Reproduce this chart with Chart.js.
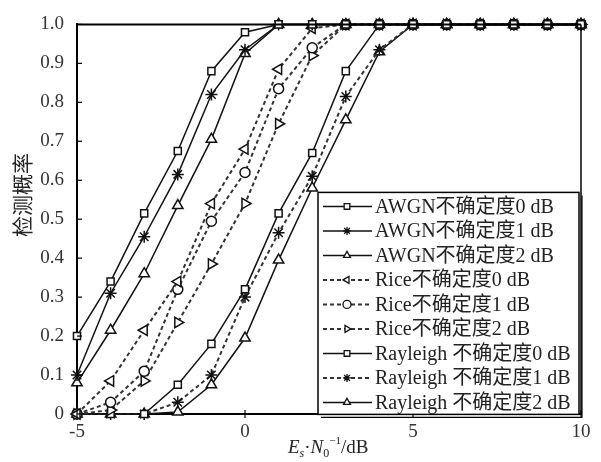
<!DOCTYPE html>
<html>
<head>
<meta charset="utf-8">
<script src="https://cdn.jsdelivr.net/npm/chart.js@4.4.1/dist/chart.umd.min.js"></script>
<style>
  html, body { margin: 0; padding: 0; background: #fff; }
  #wrap { width: 601px; height: 462px; position: relative; }
</style>
</head>
<body>
<div id="wrap"><canvas id="c" width="601" height="462"></canvas></div>
<script>
// Es/N0 in dB
const snr = [-5, -4, -3, -2, -1, 0, 1, 2, 3, 4, 5, 6, 7, 8, 9, 10];

// detection probability per channel / noise uncertainty
const awgn0 = [0.20, 0.34, 0.515, 0.675, 0.88, 0.98, 1, 1, 1, 1, 1, 1, 1, 1, 1, 1];
const awgn1 = [0.10, 0.31, 0.455, 0.615, 0.82, 0.935, 1, 1, 1, 1, 1, 1, 1, 1, 1, 1];
const awgn2 = [0.08, 0.215, 0.36, 0.535, 0.705, 0.925, 1, 1, 1, 1, 1, 1, 1, 1, 1, 1];
const rice0 = [0, 0.085, 0.215, 0.34, 0.54, 0.68, 0.885, 0.99, 1, 1, 1, 1, 1, 1, 1, 1];
const rice1 = [0, 0.03, 0.11, 0.32, 0.495, 0.62, 0.835, 0.94, 1, 1, 1, 1, 1, 1, 1, 1];
const rice2 = [0, 0.01, 0.085, 0.235, 0.385, 0.54, 0.745, 0.92, 1, 1, 1, 1, 1, 1, 1, 1];
const ray0  = [0, 0, 0, 0.075, 0.18, 0.32, 0.515, 0.67, 0.88, 1, 1, 1, 1, 1, 1, 1];
const ray1  = [0, 0, 0, 0.03, 0.10, 0.30, 0.465, 0.61, 0.815, 0.935, 1, 1, 1, 1, 1, 1];
const ray2  = [0, 0, 0, 0.005, 0.075, 0.195, 0.395, 0.58, 0.755, 0.93, 1, 1, 1, 1, 1, 1];

const seriesNames = [
  'AWGN不确定度0 dB', 'AWGN不确定度1 dB', 'AWGN不确定度2 dB',
  'Rice不确定度0 dB', 'Rice不确定度1 dB', 'Rice不确定度2 dB',
  'Rayleigh 不确定度0 dB', 'Rayleigh 不确定度1 dB', 'Rayleigh 不确定度2 dB'
];
const xTicks = [-5, 0, 5, 10];
const yTicks = [0, 0.1, 0.2, 0.3, 0.4, 0.5, 0.6, 0.7, 0.8, 0.9, 1.0];

const values = [awgn0, awgn1, awgn2, rice0, rice1, rice2, ray0, ray1, ray2];
const styles = [
  { shape: 'rect', rot: 0, dash: [], r: 5 },
  { shape: 'star', rot: 0, dash: [], r: 6 },
  { shape: 'triangle', rot: 0, dash: [], r: 6 },
  { shape: 'triangle', rot: 270, dash: [4, 3], r: 6 },
  { shape: 'circle', rot: 0, dash: [4, 3], r: 5 },
  { shape: 'triangle', rot: 90, dash: [4, 3], r: 6 },
  { shape: 'rect', rot: 0, dash: [], r: 5 },
  { shape: 'star', rot: 0, dash: [4, 3], r: 6 },
  { shape: 'triangle', rot: 0, dash: [], r: 6 }
];

const datasets = values.map((vals, i) => {
  const s = styles[i];
  const dashed = s.dash.length > 0;
  return {
    label: seriesNames[i],
    data: snr.map((x, k) => ({ x: x, y: vals[k] })),
    borderColor: dashed ? '#333' : '#111',
    borderWidth: dashed ? 2 : 1.5,
    borderDash: s.dash,
    pointStyle: s.shape,
    rotation: s.rot,
    pointRadius: s.r,
    pointBorderWidth: 1.5,
    pointBorderColor: '#111',
    pointBackgroundColor: '#fff',
    tension: 0,
    fill: false,
    clip: false
  };
});

const serif = '"Liberation Serif", "Noto Sans CJK SC", serif';

// frame, inner tick marks, axis titles and the boxed legend
const decor = {
  id: 'decor',
  afterDraw(chart) {
    const ctx = chart.ctx;
    const a = chart.chartArea;
    const xs = chart.scales.x, ys = chart.scales.y;
    ctx.save();
    ctx.strokeStyle = '#000';
    ctx.setLineDash([]);
    // top and right frame lines
    ctx.lineWidth = 2;
    ctx.beginPath(); ctx.moveTo(a.left, a.top); ctx.lineTo(a.right, a.top); ctx.stroke();
    ctx.lineWidth = 1.5;
    ctx.beginPath(); ctx.moveTo(a.right, a.top); ctx.lineTo(a.right, a.bottom); ctx.stroke();
    // tick marks
    ctx.lineWidth = 1.2;
    yTicks.forEach(v => {
      const y = ys.getPixelForValue(v);
      ctx.beginPath(); ctx.moveTo(a.left, y); ctx.lineTo(a.left + 5, y); ctx.stroke();
    });
    xTicks.forEach(v => {
      const x = xs.getPixelForValue(v);
      ctx.beginPath(); ctx.moveTo(x, a.bottom - 4); ctx.lineTo(x, a.bottom + 4); ctx.stroke();
    });

    // y title
    ctx.fillStyle = '#222';
    ctx.save();
    ctx.translate(22, 195);
    ctx.rotate(-Math.PI / 2);
    ctx.font = '21px "Noto Sans CJK SC", sans-serif';
    ctx.textAlign = 'center';
    ctx.textBaseline = 'middle';
    ctx.fillText('检测概率', 0, 0);
    ctx.restore();

    // x title: Es·N0^-1/dB
    let x = 288; const base = 453;
    ctx.textBaseline = 'alphabetic';
    ctx.textAlign = 'left';
    const put = (t, font, dy) => { ctx.font = font; ctx.fillText(t, x, base + dy); x += ctx.measureText(t).width; };
    put('E', 'italic 19px "Liberation Serif", serif', 0);
    put('s', 'italic 12px "Liberation Serif", serif', 4);
    put('·', '19px "Liberation Serif", serif', 0);
    put('N', 'italic 19px "Liberation Serif", serif', 0);
    put('0', '12px "Liberation Serif", serif', 4);
    put('−1', '11px "Liberation Serif", serif', -9);
    put('/dB', '19px "Liberation Serif", serif', 0);

    // legend box
    const L = a.right - 263, T = a.top + 168, W = 261, H = 222;
    ctx.fillStyle = '#fff';
    ctx.fillRect(L, T, W, H);
    ctx.strokeStyle = '#000';
    ctx.lineWidth = 1.5;
    ctx.strokeRect(L, T, W, H);
    ctx.lineWidth = 1.2;
    ctx.beginPath();
    ctx.moveTo(L + W + 3, T + 3); ctx.lineTo(L + W + 3, T + H + 3); ctx.lineTo(L + 3, T + H + 3);
    ctx.stroke();

    chart.data.datasets.forEach((ds, i) => {
      const cy = T + 14 + i * 24.5;
      ctx.strokeStyle = ds.borderColor;
      ctx.lineWidth = ds.borderWidth;
      ctx.setLineDash(ds.borderDash);
      ctx.beginPath(); ctx.moveTo(L + 5, cy); ctx.lineTo(L + 54, cy); ctx.stroke();
      ctx.setLineDash([]);
      ctx.strokeStyle = '#111';
      ctx.fillStyle = '#fff';
      ctx.lineWidth = 1.3;
      Chart.helpers.drawPoint(ctx, { pointStyle: ds.pointStyle, rotation: ds.rotation, radius: 4, borderWidth: 1.3 }, L + 29, cy);
      ctx.fillStyle = '#222';
      ctx.font = '20px ' + serif;
      ctx.textBaseline = 'middle';
      ctx.fillText(ds.label, L + 57, cy + 1);
    });
    ctx.restore();
  }
};

new Chart(document.getElementById('c'), {
  type: 'line',
  data: { datasets: datasets },
  plugins: [decor],
  options: {
    responsive: false,
    animation: false,
    layout: { padding: { top: 15, right: 20, left: 0, bottom: 0 } },
    plugins: { legend: { display: false }, tooltip: { enabled: false } },
    scales: {
      x: {
        type: 'linear',
        min: -5, max: 10,
        afterFit: s => { s.height = 48; },
        afterBuildTicks: s => { s.ticks = xTicks.map(v => ({ value: v })); },
        grid: { display: true, drawOnChartArea: false, drawTicks: false },
        border: { display: true, color: '#000', width: 2 },
        ticks: { padding: 7, color: '#333', font: { family: serif, size: 19 } }
      },
      y: {
        type: 'linear',
        min: 0, max: 1,
        afterFit: s => { s.width = 77; },
        afterBuildTicks: s => { s.ticks = yTicks.map(v => ({ value: v })); },
        grid: { display: true, drawOnChartArea: false, drawTicks: false },
        border: { display: true, color: '#000', width: 2 },
        ticks: {
          padding: 13, color: '#333', font: { family: serif, size: 19 },
          callback: v => (v === 0 ? '0' : v.toFixed(1))
        }
      }
    }
  }
});
</script>
</body>
</html>
